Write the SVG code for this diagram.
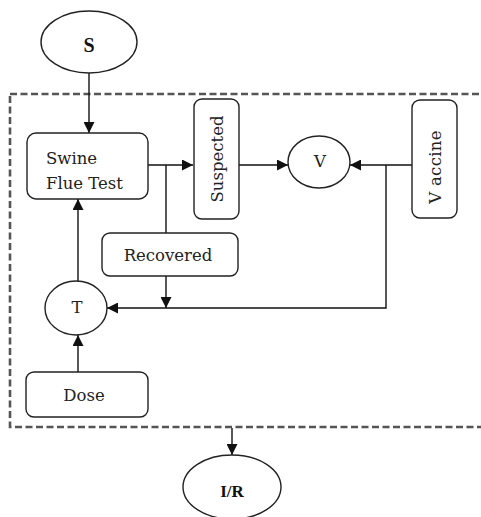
<svg xmlns="http://www.w3.org/2000/svg" width="481" height="517" viewBox="0 0 481 517">
<defs>
<style>
.n{fill:#fff;stroke:#222;stroke-width:1.4}
.t{font-family:"DejaVu Serif","Liberation Serif",serif;font-size:16.5px;fill:#222;text-anchor:middle}
.b{font-family:"Liberation Serif",serif;font-weight:bold;fill:#111;text-anchor:middle}
.c{fill:none;stroke:#111;stroke-width:1.4}
</style>
<marker id="ah" markerUnits="userSpaceOnUse" markerWidth="11" markerHeight="11" refX="11" refY="5.5" orient="auto" viewBox="0 0 11 11">
<path d="M0,0 L11,5.5 L0,11 z" fill="#111"/>
</marker>
</defs>
<rect width="481" height="517" fill="#fff"/>
<g id="boundary">
<rect x="10" y="94" width="480" height="333" fill="none" stroke="#555" stroke-width="2.6" stroke-dasharray="7,3.5"/>
</g>
<g id="connectors">
<line class="c" x1="89" y1="73" x2="89" y2="133" marker-end="url(#ah)"/>
<line class="c" x1="148" y1="165" x2="193" y2="165" marker-end="url(#ah)"/>
<line class="c" x1="166" y1="165" x2="166" y2="233"/>
<line class="c" x1="239" y1="165" x2="288" y2="165" marker-end="url(#ah)"/>
<line class="c" x1="412" y1="165" x2="350" y2="165" marker-end="url(#ah)"/>
<polyline class="c" points="386,165 386,308 107,308" marker-end="url(#ah)"/>
<line class="c" x1="166" y1="276" x2="166" y2="308" marker-end="url(#ah)"/>
<line class="c" x1="78" y1="281" x2="78" y2="199" marker-end="url(#ah)"/>
<line class="c" x1="78" y1="372" x2="78" y2="335" marker-end="url(#ah)"/>
<line class="c" x1="232" y1="428" x2="232" y2="455" marker-end="url(#ah)"/>
</g>
<g id="S">
<ellipse class="n" cx="89" cy="42" rx="48" ry="31"/>
<text class="b" x="89" y="52" font-size="20">S</text>
</g>
<g id="swine">
<rect class="n" x="27" y="133" width="121" height="66" rx="9"/>
<text class="t" x="46" y="164" style="text-anchor:start">Swine</text>
<text class="t" x="46" y="189" style="text-anchor:start">Flue Test</text>
</g>
<g id="suspected">
<rect class="n" x="194" y="99" width="45" height="120" rx="8"/>
<text class="t" transform="translate(223,159) rotate(-90)">Suspected</text>
</g>
<g id="V">
<ellipse class="n" cx="319" cy="162" rx="31" ry="26"/>
<text class="t" x="320" y="167" font-size="15">V</text>
</g>
<g id="vaccine">
<rect class="n" x="412" y="100" width="45" height="118" rx="8"/>
<text class="t" transform="translate(441,167) rotate(-90)" letter-spacing="0.3">V accine</text>
</g>
<g id="recovered">
<rect class="n" x="102" y="233" width="136" height="43" rx="8"/>
<text class="t" x="168" y="261">Recovered</text>
</g>
<g id="T">
<ellipse class="n" cx="76" cy="308" rx="31" ry="27"/>
<text class="t" x="77" y="313" font-size="15">T</text>
</g>
<g id="dose">
<rect class="n" x="26" y="372" width="122" height="45" rx="8"/>
<text class="t" x="84" y="401">Dose</text>
</g>
<g id="IR">
<ellipse class="n" cx="232" cy="487" rx="49" ry="32"/>
<text class="b" x="232" y="497" font-size="17">I/R</text>
</g>
</svg>
